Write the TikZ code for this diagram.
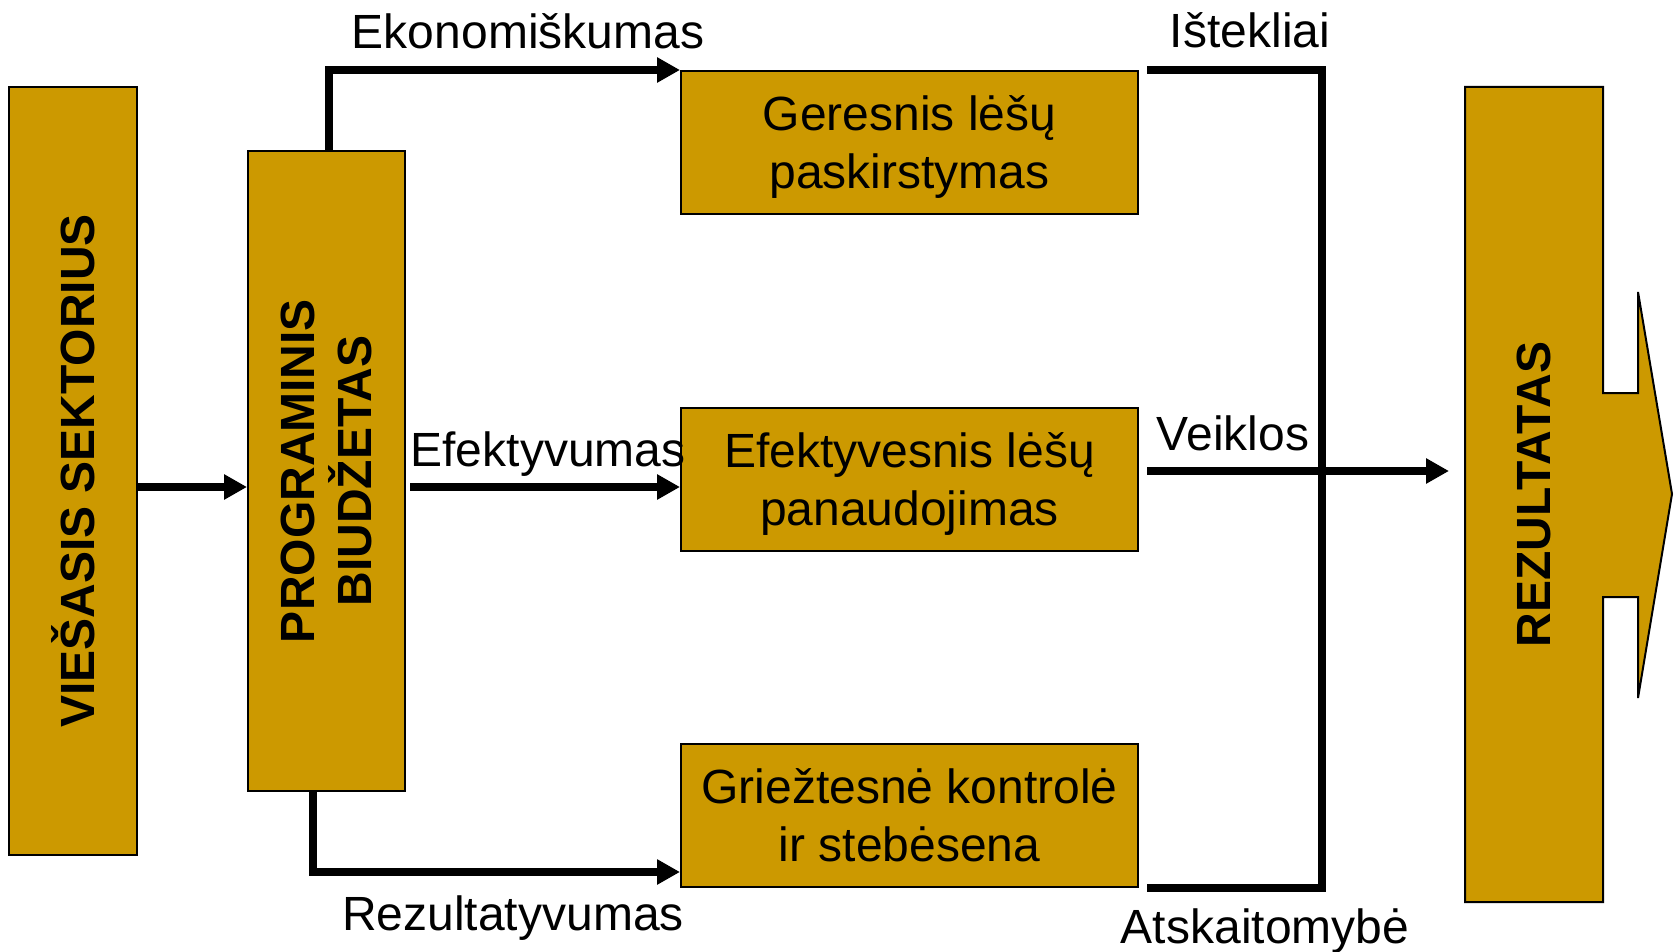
\documentclass[tikz,border=0pt]{standalone}
\usepackage{fontspec}
\setmainfont{Liberation Sans}
\usetikzlibrary{arrows.meta,calc}
\definecolor{auksine}{RGB}{204,153,0}

\tikzset{
  raidės/.style={font=\fontsize{48}{58}\selectfont},
  storas/.style={font=\fontsize{48}{57}\selectfont\bfseries, align=center},
  dezute/.style={draw=black, line width=2pt, fill=auksine, inner sep=0pt, align=center, raidės},
  vidurio/.style={dezute, minimum width=457pt, minimum height=143pt, text depth=0pt},
  jungtis/.style={line width=8pt, -{Triangle[length=23pt,width=24pt]}},
  linija/.style={line width=8pt},
  uzrasas/.style={anchor=base, inner sep=0pt, raidės}
}

\begin{document}
\begin{tikzpicture}[x=1pt,y=-1pt]
	\useasboundingbox (0,0) rectangle (1680,952);
	
	%%% stulpeliai
	\node[dezute, minimum width=128pt, minimum height=768pt,
		label={[rotate=90, storas]center:VIEŠASIS SEKTORIUS}] (sektorius) at (73,471) {};
	\node[dezute, minimum width=157pt, minimum height=640pt,
		label={[rotate=90, storas]center:PROGRAMINIS\\BIUDŽETAS}] (biudzetas) at (326.5,471) {};
	
	%%% vidurinės dėžutės
	\node[vidurio] (paskirstymas) at (909.5,142.5) {Geresnis lėšų\\paskirstymas};
	\node[vidurio] (panaudojimas) at (909.5,479) {Efektyvesnis lėšų\\panaudojimas};
	\node[vidurio] (kontrole) at (909.5,815.5) {Griežtesnė kontrolė\\ir stebėsena};
	
	%%% rezultatas
	\draw[fill=auksine, line width=2pt] (1465,87) -- (1603,87) -- (1603,393) -- (1638,393)
		-- (1638,292) -- (1672,494) -- (1638,698) -- (1638,597) -- (1603,597)
		-- (1603,902) -- (1465,902) -- cycle;
	\node[rotate=90, storas] (rezultatas) at (1534,494.5) {REZULTATAS};
	
	%%% jungtys
	\draw[jungtis] ($(sektorius.east)+(0,16)$) -- ($(biudzetas.west)+(0,16)$);
	\draw[jungtis] ($(biudzetas.north)+(2.5,0)$) |- (paskirstymas.north west);
	\draw[jungtis] ($(biudzetas.east)+(4,16)$) -- ($(panaudojimas.west)+(0,8)$);
	\draw[jungtis] ($(biudzetas.south)+(-13.5,0)$) |- ($(kontrole.south west)+(0,-16)$);
	
	\coordinate (virsus) at ($(paskirstymas.north east)+(8,0)$);
	\coordinate (apacia) at ($(kontrole.south east)+(8,0)$);
	\coordinate (galas) at (1449,471);
	\draw[linija] (virsus) -- ++(175,0) |- (apacia);
	\draw[jungtis] ($(panaudojimas.east)+(8,-8)$) -- (galas);
	
	%%% užrašai
	\node[uzrasas] (ekonomiskumas) at (528,49) {Ekonomiškumas};
	\node[uzrasas] (istekliai) at (1250,48) {Ištekliai};
	\node[uzrasas] (efektyvumas) at (548,466) {Efektyvumas};
	\node[uzrasas] (veiklos) at (1233,450) {Veiklos};
	\node[uzrasas] (rezultatyvumas) at (513,930) {Rezultatyvumas};
	\node[uzrasas] (atskaitomybe) at (1265,943) {Atskaitomybė};
\end{tikzpicture}
\end{document}
